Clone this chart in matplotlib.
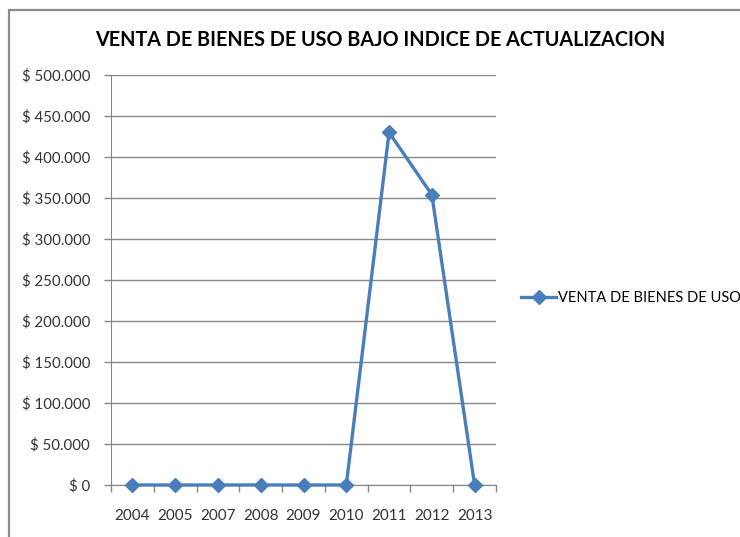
# Import libraries
import matplotlib
matplotlib.use('Agg')
from matplotlib import pyplot as plt
from matplotlib.ticker import FuncFormatter, FixedLocator
from matplotlib.lines import Line2D
from matplotlib.patches import Rectangle

# Data
years = ['2004', '2005', '2007', '2008', '2009', '2010', '2011', '2012', '2013']
ventas = [0, 0, 0, 0, 0, 0, 430000, 354000, 0]

plt.rcParams['font.family'] = ['Lato', 'DejaVu Sans']

blue = '#4a7ebb'
grey = '#868686'
txt = '#333333'

fig = plt.figure(figsize=(7.4, 5.37), dpi=100)

# Chart border (Excel style frame)
fig.patches.append(Rectangle((9 / 740, -0.1), 1.2, 1 - 10 / 537 + 0.1,
                             transform=fig.transFigure, fill=False,
                             edgecolor='#8c8c8c', linewidth=1.6))

ax1 = fig.add_axes([111 / 740, 1 - 485 / 537, 385 / 740, 410 / 537])

x = list(range(len(years)))
ax1.plot(x, ventas, color=blue, linewidth=2.4, marker='D', markersize=7,
         label='VENTA DE BIENES DE USO', clip_on=False, zorder=3)

ax1.set_xlim(-0.5, len(years) - 0.5)
ax1.set_ylim(0, 500000)
ax1.set_yticks(range(0, 500001, 50000))
ax1.yaxis.set_major_formatter(FuncFormatter(
    lambda v, p: '$ ' + format(int(v), ',').replace(',', '.')))
ax1.grid(axis='y', color=grey, linewidth=1)
ax1.set_axisbelow(True)

# Category labels with tick marks between categories
ax1.set_xticks(x)
ax1.set_xticklabels(years)
ax1.xaxis.set_minor_locator(FixedLocator([i - 0.5 for i in range(len(years) + 1)]))
ax1.tick_params(axis='x', which='major', length=0, pad=17, labelsize=11, colors=txt)
ax1.tick_params(axis='x', which='minor', length=5, color=grey, width=1)
ax1.tick_params(axis='y', length=5, color=grey, width=1, pad=10, labelsize=10.8, labelcolor=txt)

for side in ['top', 'right']:
    ax1.spines[side].set_visible(False)
ax1.spines['left'].set_color(grey)
ax1.spines['bottom'].set_color(grey)

fig.text(380 / 740, 1 - 40 / 537, 'VENTA DE BIENES DE USO BAJO INDICE DE ACTUALIZACION',
         ha='center', va='center', fontsize=14.2, fontweight='bold', color='black')

# Legend
handle = Line2D([], [], color=blue, linewidth=2.4, marker='D', markersize=7)
fig.legend([handle], ['VENTA DE BIENES DE USO'], loc='center left',
           bbox_to_anchor=(521 / 740, 1 - 298 / 537), frameon=False,
           fontsize=10.5, handlelength=2.4, handletextpad=0.15, borderaxespad=0,
           borderpad=0)

fig.savefig('out.png', dpi=100)
